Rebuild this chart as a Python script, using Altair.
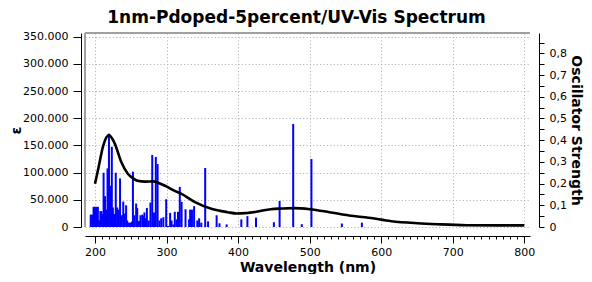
import altair as alt
import pandas as pd

# ---- data ----
curve_wl = [200, 205, 211.6, 219.4, 227.6, 236.7, 245.8, 254, 259.5, 270, 281.4, 288.2,
            299.6, 310, 321, 339.8, 362.5, 385.4, 398, 410, 425.4, 445.6, 461, 477.4,
            500.3, 527.7, 555, 582.5, 614.2, 650.8, 678.2, 719.2, 760, 800]
curve_eps = [79700, 110000, 150000, 169000, 153500, 119500, 98000, 89000, 85000, 83500,
             84000, 81500, 74700, 67500, 61000, 45800, 33600, 27300, 24900, 25500, 28000,
             32800, 34000, 34700, 32800, 27300, 21200, 17000, 10700, 7000, 5200, 3300,
             3000, 3000]

bar_wl = [194, 196, 198, 200, 202, 204, 206, 207.5, 209, 210.5, 212, 214, 215.5, 217.5,
          219.5, 221.5, 223.5, 225, 227, 229, 231, 232.5, 235, 237.5, 239.5, 241.5, 243.5,
          245, 247, 249, 251.5, 253, 255, 257.5, 259, 261.5, 263.5, 266, 267.5, 269, 271,
          272.5, 275, 277.5, 280, 282.5, 285, 287.5, 290, 292.5, 295.5, 299.5, 302, 305,
          307, 309.5, 311.5, 314, 316, 318.5, 321, 326.5, 331.5, 333, 335.5, 338.5, 343,
          345.5, 348.5, 354, 358, 370, 374, 384, 404.5, 413, 425, 450, 458, 477, 489,
          502.5, 545, 573]
bar_f = [0.057, 0.057, 0.093, 0.093, 0.093, 0.093, 0.031, 0.073, 0.073, 0.06, 0.25, 0.142,
         0.08, 0.27, 0.43, 0.19, 0.37, 0.09, 0.06, 0.25, 0.09, 0.08, 0.224, 0.054, 0.117,
         0.062, 0.10, 0.03, 0.02, 0.02, 0.025, 0.255, 0.054, 0.108, 0.087, 0.028, 0.054,
         0.057, 0.05, 0.067, 0.04, 0.088, 0.03, 0.113, 0.332, 0.067, 0.323, 0.29, 0.03,
         0.04, 0.045, 0.128, 0.005, 0.065, 0.03, 0.012, 0.07, 0.035, 0.07, 0.185, 0.116,
         0.082, 0.035, 0.08, 0.08, 0.096, 0.03, 0.04, 0.02, 0.272, 0.026, 0.054, 0.017,
         0.012, 0.035, 0.05, 0.043, 0.022, 0.12, 0.475, 0.013, 0.313, 0.016, 0.02]

title_text = "1nm-Pdoped-5percent/UV-Vis Spectrum"
x_title = "Wavelength (nm)"
y_left_title = "ε"
y_right_title = "Oscillator Strength"
x_tick_values = list(range(200, 801, 10))
eps_tick_values = list(range(0, 350001, 50000))
f_tick_values = [round(i * 0.05, 2) for i in range(0, 18)]

W, H = 445, 194
FONT = "DejaVu Sans"
GRID = "#b4b4b4"

curve_df = pd.DataFrame({"wl": curve_wl, "eps": curve_eps})
bar_df = pd.DataFrame({"wl": bar_wl, "f": bar_f})

x_scale = alt.Scale(domain=[193, 801], nice=False, zero=False)

x_axis = alt.Axis(
    values=x_tick_values,
    title=x_title,
    labelExpr="datum.value % 100 === 0 ? datum.label : ''",
    labelOverlap=False,
    labelFlush=False,
    tickSize={"condition": {"test": "datum.value % 100 === 0", "value": 7}, "value": 3},
    grid=True,
    gridOpacity={"condition": {"test": "datum.value % 100 === 0", "value": 1}, "value": 0},
    gridColor=GRID,
    gridDash=[1.2, 2.2],
    offset=9,
    labelPadding=3,
    labelFont=FONT,
    labelFontSize=11,
    labelColor="black",
    titleFont=FONT,
    titleFontSize=14,
    titleFontWeight="bold",
    titleColor="black",
    titlePadding=3,
    domainColor="black",
    tickColor="black",
)

left_axis = alt.Axis(
    values=eps_tick_values,
    title=y_left_title,
    orient="left",
    labelExpr="replace(format(datum.value, ',d'), ',', '.')",
    grid=True,
    gridColor=GRID,
    gridDash=[1.2, 2.2],
    offset=4,
    tickSize=8,
    labelPadding=5,
    labelFont=FONT,
    labelFontSize=11,
    labelColor="black",
    titleFont=FONT,
    titleFontSize=14,
    titleFontWeight="bold",
    titleColor="black",
    titlePadding=-1,
    domainColor="black",
    tickColor="black",
)

right_axis = alt.Axis(
    values=f_tick_values,
    title=y_right_title,
    orient="right",
    labelExpr="datum.value === 0 ? '0' : (abs(datum.value * 10 - round(datum.value * 10)) < 0.001 ? replace(format(datum.value, '.1f'), '.', ',') : '')",
    labelOverlap=False,
    labelFlush=False,
    grid=False,
    offset=9,
    tickSize=5,
    labelPadding=5,
    labelFont=FONT,
    labelFontSize=11,
    labelColor="black",
    titleFont=FONT,
    titleFontSize=14,
    titleFontWeight="bold",
    titleColor="black",
    titlePadding=2,
    domainColor="black",
    tickColor="black",
)

bars = alt.Chart(bar_df).mark_bar(size=2, color="#0000ff").encode(
    x=alt.X("wl:Q", scale=x_scale, axis=x_axis),
    y=alt.Y("f:Q", scale=alt.Scale(domain=[0, 0.894], nice=False), axis=right_axis),
)

curve = alt.Chart(curve_df).mark_line(color="black", strokeWidth=2.6, interpolate="monotone").encode(
    x=alt.X("wl:Q", scale=x_scale, axis=x_axis),
    y=alt.Y("eps:Q", scale=alt.Scale(domain=[0, 357000], nice=False), axis=left_axis),
)

frame_df = pd.DataFrame({"a": [0]})
frame_top = alt.Chart(frame_df).mark_rule(color="#a0a0a0", strokeWidth=2).encode(
    x=alt.value(0), x2=alt.value(W), y=alt.value(0)
)
frame_left = alt.Chart(frame_df).mark_rule(color="#a0a0a0", strokeWidth=2).encode(
    x=alt.value(0), y=alt.value(0), y2=alt.value(H)
)

chart = alt.layer(bars, curve, frame_top, frame_left).resolve_scale(
    y="independent"
).properties(
    width=W,
    height=H,
    autosize=alt.AutoSizeParams(type="none"),
    padding={"left": 77, "top": 25, "right": 54, "bottom": 47},
    title=alt.TitleParams(
        text=title_text,
        font=FONT,
        fontSize=17,
        fontWeight="bold",
        color="black",
        anchor="middle",
        baseline="alphabetic",
        dx=-11,
        dy=18,
        offset=9,
    ),
).configure_view(stroke=None)

chart.save("out.html", embed_options={"renderer": "svg", "actions": False})
